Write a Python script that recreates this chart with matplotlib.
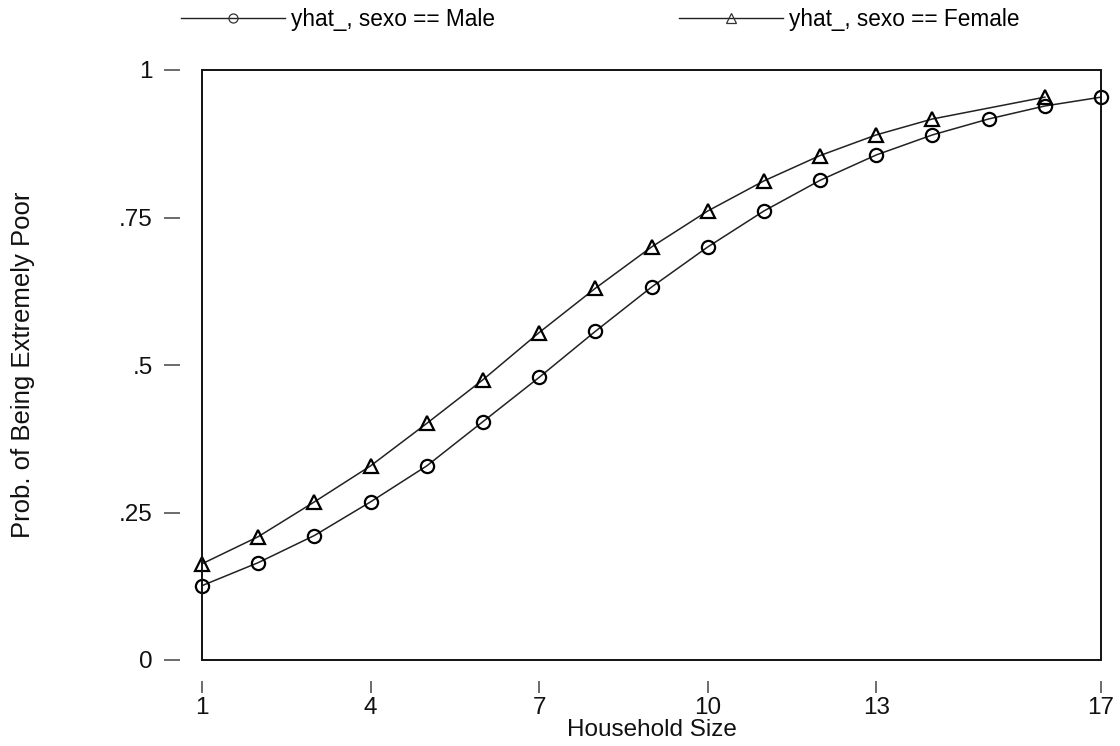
import matplotlib
matplotlib.use('Agg')
import matplotlib.pyplot as plt
from matplotlib.lines import Line2D
from matplotlib.patches import Rectangle

plt.rcParams['font.family'] = ['Liberation Sans', 'DejaVu Sans']

# dados
tam_male = [1, 2, 3, 4, 5, 6, 7, 8, 9, 10, 11, 12, 13, 14, 15, 16, 17]
prob_male = [0.126, 0.165, 0.211, 0.268, 0.329, 0.404, 0.479, 0.557, 0.632,
             0.700, 0.761, 0.813, 0.856, 0.890, 0.917, 0.939, 0.954]
tam_female = [1, 2, 3, 4, 5, 6, 7, 8, 9, 10, 11, 12, 13, 14, 16]
prob_female = [0.163, 0.209, 0.268, 0.329, 0.401, 0.475, 0.555, 0.630, 0.700,
               0.761, 0.812, 0.855, 0.890, 0.917, 0.954]
xticks = [1, 4, 7, 10, 13, 17]
yticks = [0, 0.25, 0.5, 0.75, 1]
ytick_labels = ['0', '.25', '.5', '.75', '1']

fs = 17.5      # eixos
fs_leg = 16.3  # legenda
fig = plt.figure(figsize=(11.2, 7.46), dpi=100)
ax = fig.add_axes([202 / 1120, 86 / 746, 899 / 1120, 590 / 746])

ax.plot(tam_male, prob_male, color='#222222', lw=1.1, marker='o', ms=9.5,
        mfc='none', mec='black', mew=1.6, clip_on=False, zorder=3)
ax.plot(tam_female, prob_female, color='#222222', lw=1.1, marker='^', ms=9.5,
        mfc='none', mec='black', mew=1.6, clip_on=False, zorder=3)

ax.set_xlim(1, 17)
ax.set_ylim(0, 1)
ax.set_xticks(xticks)
ax.set_yticks(yticks)
ax.set_yticklabels(ytick_labels)

# moldura e eixos deslocados
for s in ax.spines.values():
    s.set_visible(False)
ax.spines['left'].set_visible(True)
ax.spines['bottom'].set_visible(True)
ax.spines['left'].set_position(('outward', 16))
ax.spines['bottom'].set_position(('outward', 15))
ax.spines['left'].set_color('none')
ax.spines['bottom'].set_color('none')
ax.add_patch(Rectangle((0, 0), 1, 1, transform=ax.transAxes, fill=False,
                       lw=1.4, ec='#111111', clip_on=False, zorder=4))

ax.tick_params(axis='y', direction='out', length=11.5, width=1.1, color='#444444',
               pad=8, labelsize=fs, labelcolor='#111111')
ax.tick_params(axis='x', direction='out', length=8.6, width=1.1, color='#444444',
               pad=3, labelsize=fs, labelcolor='#111111')

ax.set_xlabel('Household Size', fontsize=fs, labelpad=0, color='#111111')
ax.set_ylabel('Prob. of Being Extremely Poor', fontsize=18.5, color='#111111')
ax.yaxis.set_label_coords(-0.186, 0.5)

h1 = Line2D([], [], color='#222222', lw=1.0, marker='o', ms=6.5, mfc='none',
            mec='#333333', mew=0.9)
h2 = Line2D([], [], color='#222222', lw=1.0, marker='^', ms=6.5, mfc='none',
            mec='#333333', mew=0.9)
fig.legend([h1, h2], ['yhat_, sexo == Male', 'yhat_, sexo == Female'],
           loc='center', bbox_to_anchor=(0.536, 0.9745), ncol=2, frameon=False,
           fontsize=fs_leg, handlelength=4.6, handletextpad=0.27, columnspacing=8.1)

fig.savefig('out.png', dpi=100)
